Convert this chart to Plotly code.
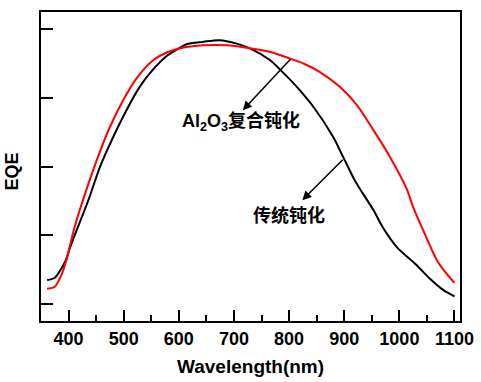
import plotly.graph_objects as go

# Wavelength (nm) and EQE values
wl_conv = [361, 375, 387, 395, 403, 417, 436, 457, 481, 505, 529, 553, 578, 599, 614, 644, 674,
           705, 729, 765, 785, 814, 844, 880, 898, 919, 934, 953, 971, 995, 1031, 1055, 1080, 1100]
eqe_conv = [6.9, 7.6, 10.3, 12.7, 16.5, 22.4, 30.2, 39.9, 48.6, 56.4, 63.2, 68.2, 72.2, 74.3, 75.6, 76.3, 76.8,
            75.8, 74.4, 71.0, 68.0, 63.2, 57.4, 48.6, 42.8, 36.0, 32.1, 27.3, 22.0, 16.6, 11.3, 7.4, 4.0, 2.2]

wl_al2o3 = [361, 375, 387, 396, 402, 411, 430, 451, 475, 499, 523, 554, 578, 599, 614, 644, 687,
            723, 765, 802, 826, 856, 892, 923, 953, 983, 1013, 1025, 1043, 1068, 1083, 1100]
eqe_al2o3 = [4.4, 5.0, 8.4, 12.7, 16.6, 22.4, 32.1, 41.8, 51.5, 59.3, 65.6, 71.0, 73.2, 74.3, 74.8, 75.3, 75.3,
             74.6, 73.4, 71.4, 70.0, 67.5, 63.2, 57.9, 50.6, 42.8, 33.6, 28.2, 21.5, 12.7, 9.3, 6.1]

x_ticks = [400, 500, 600, 700, 800, 900, 1000, 1100]
y_ticks = [0, 20, 40, 60, 80]

label_al2o3 = "Al<sub>2</sub>O<sub>3</sub>复合钝化"
label_conv = "传统钝化"
x_title = "Wavelength(nm)"
y_title = "EQE"

font_latin = "Arial, 'Liberation Sans', sans-serif"
font_mix = "Arial, 'Liberation Sans', 'Noto Sans CJK SC', sans-serif"
font_cjk = "'Noto Sans CJK SC', sans-serif"

fig = go.Figure()
fig.add_trace(go.Scatter(x=wl_conv, y=eqe_conv, mode="lines",
                         line=dict(color="black", width=2, shape="spline", smoothing=0.8),
                         showlegend=False, hoverinfo="skip"))
fig.add_trace(go.Scatter(x=wl_al2o3, y=eqe_al2o3, mode="lines",
                         line=dict(color="red", width=2, shape="spline", smoothing=0.8),
                         showlegend=False, hoverinfo="skip"))

# arrows (data coordinates)
fig.add_annotation(x=716, y=56.4, ax=805, ay=71.7, xref="x", yref="y", axref="x", ayref="y",
                   text="", showarrow=True, arrowhead=2, arrowsize=1.2, arrowwidth=1.5, arrowcolor="black")
fig.add_annotation(x=824, y=30.2, ax=900, ay=42.4, xref="x", yref="y", axref="x", ayref="y",
                   text="", showarrow=True, arrowhead=2, arrowsize=1.2, arrowwidth=1.5, arrowcolor="black")

fig.add_annotation(x=713, y=52.9, xref="x", yref="y", text="<b>" + label_al2o3 + "</b>", showarrow=False,
                   font=dict(family=font_mix, size=18, color="black"))
fig.add_annotation(x=800, y=26.3, xref="x", yref="y", text="<b>" + label_conv + "</b>", showarrow=False,
                   font=dict(family=font_cjk, size=18, color="black"))

# axis titles
fig.add_annotation(x=0.5, y=-0.148, xref="paper", yref="paper", xanchor="center", yanchor="middle",
                   text="<b>" + x_title + "</b>", showarrow=False,
                   font=dict(family=font_latin, size=19, color="black"))
fig.add_annotation(x=-0.07, y=0.483, xref="paper", yref="paper", xanchor="center", yanchor="middle",
                   text="<b>" + y_title + "</b>", showarrow=False, textangle=-90,
                   font=dict(family=font_latin, size=18, color="black"))

fig.update_xaxes(range=[350, 1110], tickvals=x_ticks, ticktext=["<b>%d</b>" % v for v in x_ticks],
                 ticks="inside", ticklen=11, tickwidth=2, tickcolor="black",
                 minor=dict(dtick=50, tick0=0, ticks="inside", ticklen=6, tickwidth=2, tickcolor="black"),
                 showline=True, linewidth=2, linecolor="black", mirror=True, showgrid=False, zeroline=False,
                 tickfont=dict(family=font_latin, size=18, color="black"), automargin=False)
fig.update_yaxes(range=[-5, 85], tickvals=y_ticks, showticklabels=False,
                 ticks="inside", ticklen=12, tickwidth=2, tickcolor="black",
                 showline=True, linewidth=2, linecolor="black", mirror=True, showgrid=False, zeroline=False,
                 automargin=False)

fig.update_layout(width=481, height=382, margin=dict(l=41, r=21, t=12, b=61),
                  plot_bgcolor="white", paper_bgcolor="white")
fig.write_html("out.html", config={"displayModeBar": False},
               post_script="document.body.style.margin='0px';")
